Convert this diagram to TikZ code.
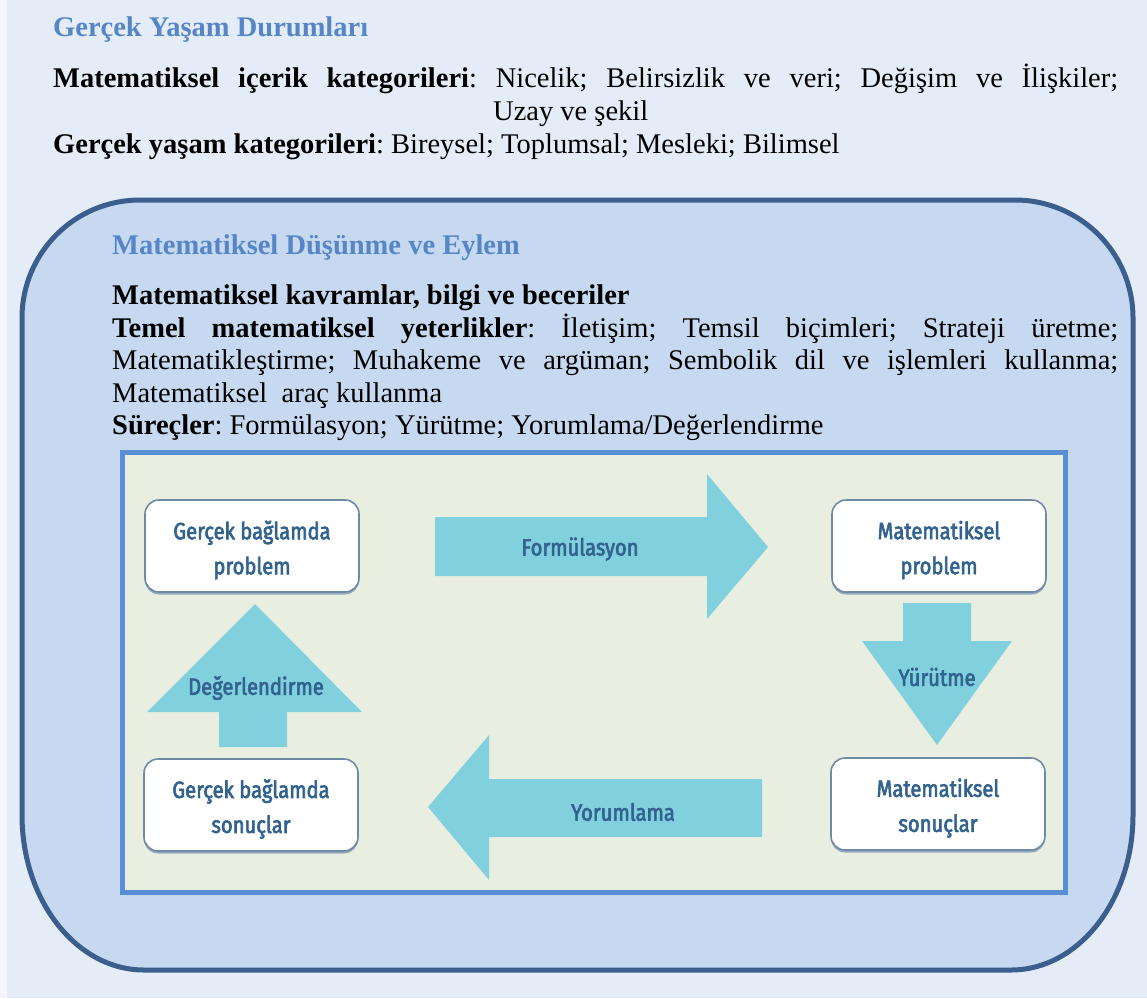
\documentclass[tikz,border=0pt]{standalone}
\usepackage{fontspec}
\setmainfont{Liberation Serif}
\newfontfamily\boxfont{Fira Sans}[FakeStretch=0.86, FakeBold=2.6]
\usetikzlibrary{shadows}
\frenchspacing
\definecolor{bgc}{RGB}{228,236,247}
\definecolor{stripc}{RGB}{243,247,252}
\definecolor{outerfill}{RGB}{198,217,240}
\definecolor{outerdraw}{RGB}{59,94,140}
\definecolor{innerfill}{RGB}{233,239,224}
\definecolor{innerdraw}{RGB}{88,142,212}
\definecolor{arrowc}{RGB}{128,208,222}
\definecolor{titlec}{RGB}{86,134,198}
\definecolor{boxtext}{RGB}{50,98,142}
\definecolor{boxdraw}{RGB}{112,138,165}
\definecolor{boxshadow}{RGB}{150,168,190}
\begin{document}
\begin{tikzpicture}[x=1pt,y=-1pt,
  txt/.style={inner sep=0pt, anchor=base west, font=\fontsize{28.5}{33}\selectfont},
  ttl/.style={txt, text=titlec, font=\fontsize{28.5}{33}\selectfont\bfseries},
  pbox/.style={draw=boxdraw, line width=1.6pt, fill=white, rounded corners=14pt,
    minimum width=214pt, minimum height=92pt,
    drop shadow={shadow xshift=0pt, shadow yshift=-2.5pt, fill=boxshadow, opacity=1}},
  btext/.style={align=center, text=boxtext, inner sep=0pt,
    font=\boxfont\fontsize{23.5}{35}\selectfont},
  alabel/.style={text=boxtext, inner sep=0pt, font=\boxfont\fontsize{23.5}{26}\selectfont},
  blockarrow/.style={fill=arrowc}
]
\useasboundingbox (0,0) rectangle (1147,998);
\fill[bgc] (0,0) rectangle (1147,998);
\fill[stripc] (0,0) rectangle (7,998);

% outer rounded region
\draw[outerdraw, fill=outerfill, line width=5pt]
  (22,318) arc[start angle=180, end angle=270, radius=118]
  -- (1015,200) arc[start angle=270, end angle=360, radius=118]
  -- (1133,815) arc[start angle=0, end angle=90, x radius=122, y radius=155]
  -- (144,970) arc[start angle=90, end angle=180, x radius=122, y radius=155]
  -- cycle;

% inner rectangle
\draw[innerdraw, fill=innerfill, line width=5pt] (122,452) rectangle (1065,892);

% top texts
\node[ttl] (t0) at (53,37) {Gerçek Yaşam Durumları};
\node[txt] (t1) at (53,87) {\makebox[1065pt][s]{\textbf{Matematiksel içerik kategorileri}: Nicelik; Belirsizlik ve veri; Değişim ve İlişkiler;}};
\node[txt] (t2) at (493,120) {Uzay ve şekil};
\node[txt] (t3) at (53,153) {\textbf{Gerçek yaşam kategorileri}: Bireysel; Toplumsal; Mesleki; Bilimsel};

% inner texts
\node[ttl] (m0) at (112,254) {Matematiksel Düşünme ve Eylem};
\node[txt] (m1) at (112,304) {\textbf{Matematiksel kavramlar, bilgi ve beceriler}};
\node[txt] (m2) at (112,337) {\makebox[1006pt][s]{\textbf{Temel matematiksel yeterlikler}: İletişim; Temsil biçimleri; Strateji üretme;}};
\node[txt] (m3) at (112,369) {\makebox[1006pt][s]{Matematikleştirme; Muhakeme ve argüman; Sembolik dil ve işlemleri kullanma;}};
\node[txt] (m4) at (112,402) {Matematiksel\ \ araç kullanma};
\node[txt] (m5) at (112,434) {\textbf{Süreçler}: Formülasyon; Yürütme; Yorumlama/Değerlendirme};

% block arrows
\fill[blockarrow] (435,517) -- (707,517) -- (707,474) -- (768,547) -- (707,619) -- (707,576) -- (435,576) -- cycle;
\fill[blockarrow] (762,779) -- (489,779) -- (489,735) -- (428,807) -- (489,880) -- (489,837) -- (762,837) -- cycle;
\fill[blockarrow] (903,603) -- (971,603) -- (971,641) -- (1012,641) -- (937,745) -- (862,641) -- (903,641) -- cycle;
\fill[blockarrow] (219,747) -- (219,712) -- (147,712) -- (255,604) -- (362,712) -- (287,712) -- (287,747) -- cycle;

% arrow labels
\node[alabel] (lf) at (580,549) {Formülasyon};
\node[alabel] (ly) at (623,812) {Yorumlama};
\node[alabel] (lr) at (937,677) {Yürütme};
\node[alabel] (ld) at (256,688) {Değerlendirme};

% boxes
\node[pbox] (b1) at (252,546) {};
\node[pbox] (b2) at (939,546) {};
\node[pbox] (b3) at (251,805) {};
\node[pbox] (b4) at (938,804) {};
\node[btext] (b1t) at ([yshift=-4pt]b1.center) {Gerçek bağlamda\\problem};
\node[btext] (b2t) at ([yshift=-4pt]b2.center) {Matematiksel\\problem};
\node[btext] (b3t) at ([yshift=-4pt]b3.center) {Gerçek bağlamda\\sonuçlar};
\node[btext] (b4t) at ([yshift=-4pt]b4.center) {Matematiksel\\sonuçlar};
\end{tikzpicture}
\end{document}
